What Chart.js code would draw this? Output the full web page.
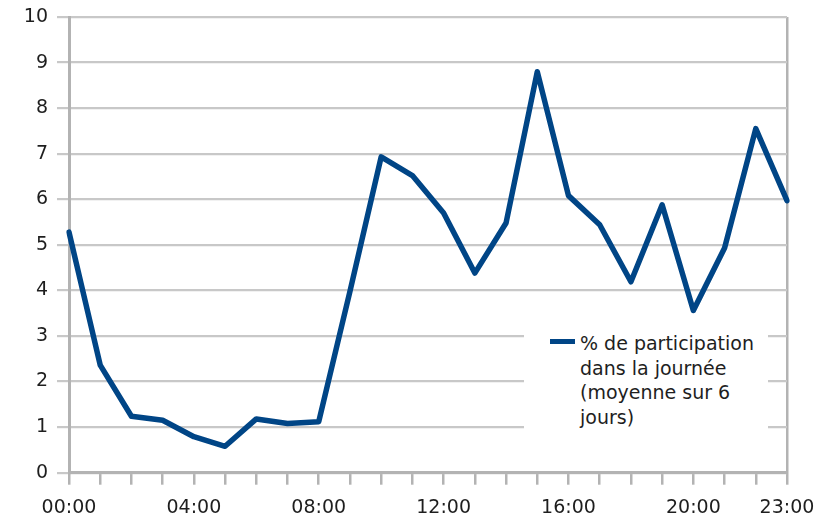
<!DOCTYPE html>
<html>
<head>
<meta charset="utf-8">
<script src="https://cdn.jsdelivr.net/npm/chart.js@4"></script>
<style>
  html, body { margin: 0; padding: 0; background: #fff; }
  #wrap { position: relative; width: 819px; height: 516px; }
  #legend { position: absolute; left: 524px; top: 318px; width: 244px; height: 118px; background: #fff;
            font-family: "DejaVu Sans", sans-serif; font-size: 19px; line-height: 24.5px; color: #1e1e1e; }
  #legend .swatch { position: absolute; left: 26px; top: 21px; width: 25px; height: 5px; background: #004586; }
  #legend .txt { position: absolute; left: 56px; top: 13px; white-space: nowrap; }
</style>
</head>
<body>
<div id="wrap">
  <canvas id="c" width="819" height="516"></canvas>
  <div id="legend"></div>
</div>
<script>
const hours = ["00:00","01:00","02:00","03:00","04:00","05:00","06:00","07:00","08:00","09:00","10:00","11:00",
               "12:00","13:00","14:00","15:00","16:00","17:00","18:00","19:00","20:00","21:00","22:00","23:00"];
const participation = [5.28, 2.36, 1.24, 1.15, 0.79, 0.58, 1.18, 1.08, 1.12, 3.98, 6.93, 6.52,
                       5.7, 4.38, 5.48, 8.8, 6.08, 5.44, 4.19, 5.88, 3.56, 4.93, 7.55, 5.97];
const shownTickLabels = ["00:00","04:00","08:00","12:00","16:00","20:00","23:00"];
const seriesLabel = "% de participation dans la journée (moyenne sur 6 jours)";
const legendLines = ["% de participation", "dans la journée", "(moyenne sur 6", "jours)"];

const FONT = { family: "DejaVu Sans", size: 19 };
const TXT = "#1e1e1e";
const GRID = "#c8c8c8";
const AXIS = "#b3b3b3";

const chart = new Chart(document.getElementById("c"), {
  type: "line",
  data: {
    labels: hours,
    datasets: [{
      label: seriesLabel,
      data: participation,
      borderColor: "#004586",
      backgroundColor: "#004586",
      borderWidth: 5.5,
      borderJoinStyle: "round",
      borderCapStyle: "round",
      pointRadius: 0,
      pointHoverRadius: 0,
      tension: 0,
      fill: false
    }]
  },
  options: {
    responsive: false,
    animation: false,
    devicePixelRatio: 1,
    layout: { padding: { top: 17, right: 32, left: 0, bottom: 0 } },
    plugins: { legend: { display: false }, tooltip: { enabled: false } },
    scales: {
      x: {
        type: "category",
        offset: false,
        afterFit: s => { s.height = 43.3; s.paddingLeft = 0; s.paddingRight = 0; },
        grid: {
          drawOnChartArea: true,
          color: ctx => (ctx.index === hours.length - 1 ? AXIS : "rgba(0,0,0,0)"),
          lineWidth: 2.5,
          tickColor: AXIS,
          tickLength: 12,
          drawTicks: true
        },
        border: { display: true, color: AXIS, width: 3 },
        ticks: {
          autoSkip: false,
          maxRotation: 0,
          minRotation: 0,
          padding: 12,
          color: TXT,
          font: FONT,
          callback: function (v, i) {
            const l = this.getLabelForValue(v);
            return shownTickLabels.includes(l) ? l : "";
          }
        }
      },
      y: {
        min: 0,
        max: 10,
        afterFit: s => { s.width = 69; s.paddingTop = 0; s.paddingBottom = 0; },
        grid: { color: GRID, lineWidth: 2.2, tickColor: GRID, tickLength: 12 },
        border: { display: true, color: AXIS, width: 3 },
        ticks: { stepSize: 1, padding: 9, color: TXT, font: FONT }
      }
    }
  }
});

// HTML legend built from the dataset
const lg = document.getElementById("legend");
const sw = document.createElement("div");
sw.className = "swatch";
sw.style.background = chart.data.datasets[0].borderColor;
const tx = document.createElement("div");
tx.className = "txt";
tx.innerHTML = legendLines.join("<br>");
lg.appendChild(sw);
lg.appendChild(tx);
</script>
</body>
</html>
